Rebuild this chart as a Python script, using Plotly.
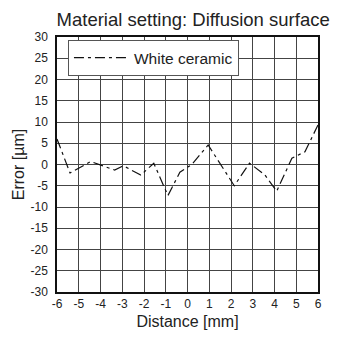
import plotly.graph_objects as go

distance_mm = [-6, -5.4, -4.45, -3.35, -2.95, -2.15, -1.55, -0.9, -0.35, 0.2, 0.95, 2.15, 2.85, 3.55, 4.1, 4.8, 5.4, 6]
error_um = [6, -2, 0.7, -1.3, -0.3, -2.5, 0.3, -7.3, -1.8, 0, 4.6, -5, 0.3, -2.4, -6.3, 1.5, 3, 9.3]
series_name = "White ceramic"
x_ticks = list(range(-6, 7))
y_ticks = list(range(-30, 31, 5))

fig = go.Figure()
fig.add_trace(go.Scatter(
    x=distance_mm, y=error_um, mode="lines", name=series_name,
    line=dict(color="#111111", width=1.2, dash="10px,4px,3px,4px"),
    showlegend=True,
))

fig.update_layout(
    width=333, height=329,
    margin=dict(l=49, r=23, t=29, b=45),
    paper_bgcolor="white", plot_bgcolor="white",
    font=dict(family="Liberation Sans, Arial, sans-serif", color="#222222", size=12),
    title=dict(text="Material setting: Diffusion surface", x=0.556, xanchor="center",
               yref="container", y=0.985, yanchor="top", font=dict(size=18.5, color="#222222")),
    showlegend=True,
    legend=dict(x=0.042, y=0.988, xanchor="left", yanchor="top",
                bgcolor="white", bordercolor="#555555", borderwidth=1,
                font=dict(size=15.5, color="#222222"),
                itemwidth=55, tracegroupgap=0),
)
fig.update_xaxes(
    range=[-6, 6], tickvals=x_ticks, ticktext=[str(v) for v in x_ticks],
    showgrid=True, gridcolor="#444444", gridwidth=1, automargin=False,
    showline=True, linecolor="#111111", linewidth=1.5, mirror=True,
    zeroline=False, ticks="",
    title=dict(text="Distance [mm]", font=dict(size=16), standoff=6),
)
fig.update_yaxes(
    range=[-30, 30], tickvals=y_ticks, ticktext=[str(v) for v in y_ticks],
    showgrid=True, gridcolor="#444444", gridwidth=1, automargin=False,
    showline=True, linecolor="#111111", linewidth=1.5, mirror=True,
    zeroline=False, ticks="outside", ticklen=5, tickcolor="rgba(0,0,0,0)",
    title=dict(text="Error [µm]", font=dict(size=16), standoff=2),
)
fig.write_html("out.html")
